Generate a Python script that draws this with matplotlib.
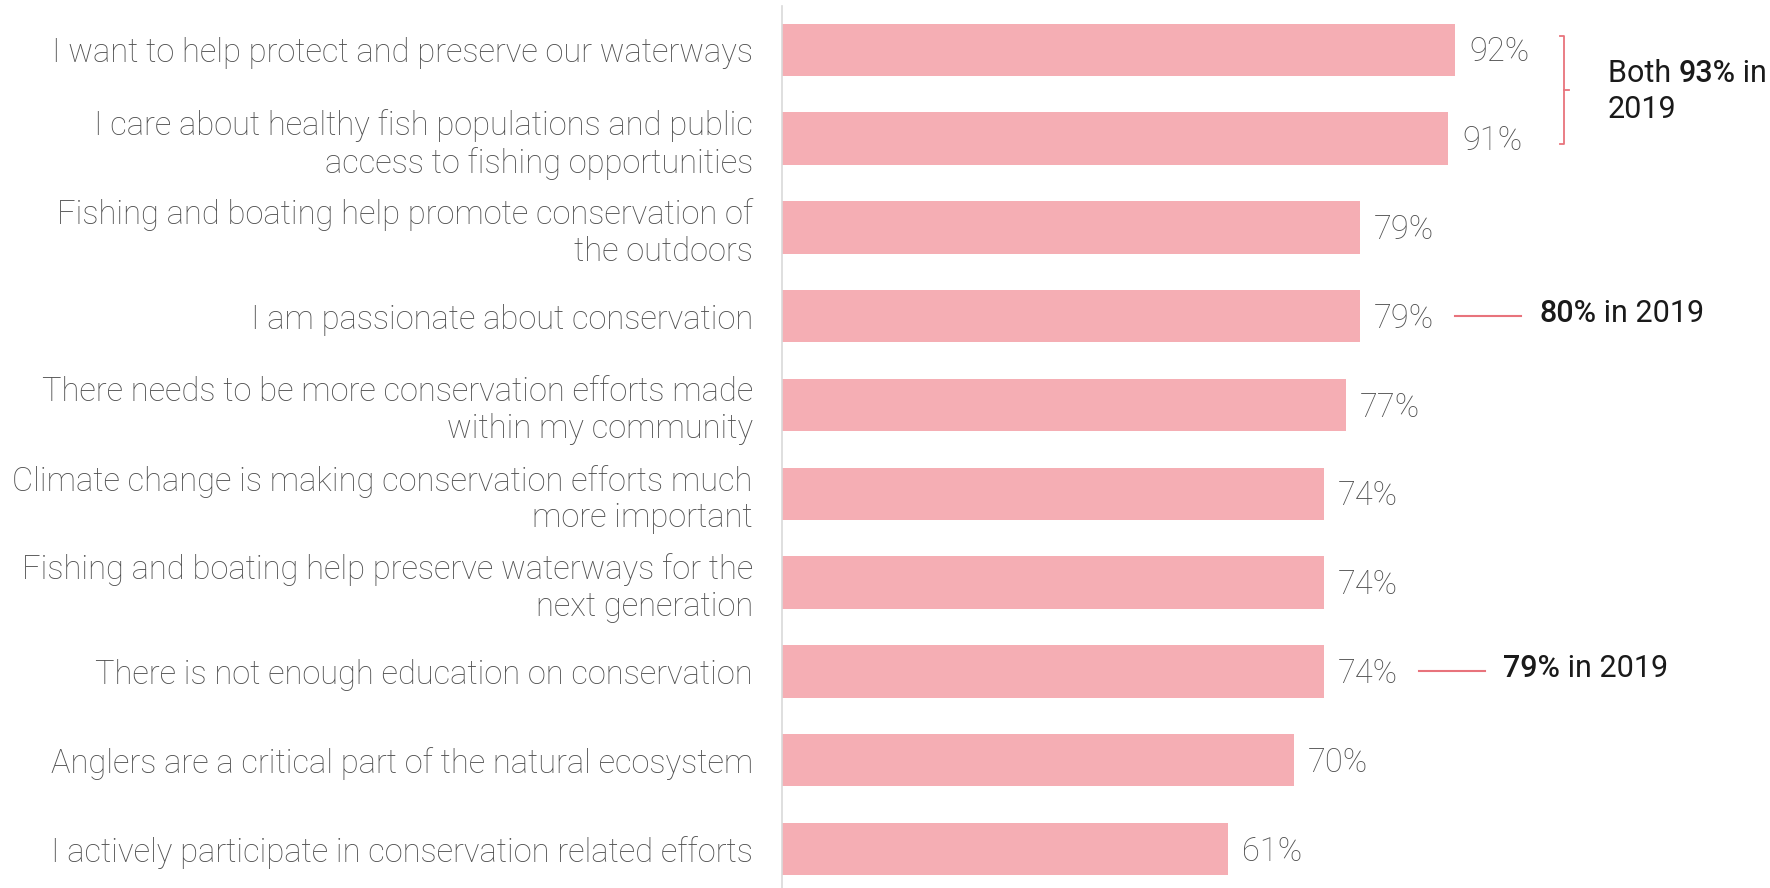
import matplotlib
matplotlib.use("Agg")
import matplotlib.pyplot as plt

categories = [
    "I want to help protect and preserve our waterways",
    "I care about healthy fish populations and public\naccess to fishing opportunities",
    "Fishing and boating help promote conservation of\nthe outdoors",
    "I am passionate about conservation",
    "There needs to be more conservation efforts made\nwithin my community",
    "Climate change is making conservation efforts much\nmore important",
    "Fishing and boating help preserve waterways for the\nnext generation",
    "There is not enough education on conservation",
    "Anglers are a critical part of the natural ecosystem",
    "I actively participate in conservation related efforts",
]
values = [92, 91, 79, 79, 77, 74, 74, 74, 70, 61]

# 2019 comparison notes: (row index, bold part, rest)
notes_2019 = [(3, "80%", " in 2019"), (7, "79%", " in 2019")]
bracket_rows = (0, 1)
bracket_bold = "93%"

BAR = "#f5aeb4"
ACCENT = "#e8737c"
GREY = "#4f4f4f"
DARK = "#1a1a1a"
FONT = "Roboto"

fig = plt.figure(figsize=(17.7, 8.88), dpi=100)
ax = fig.add_axes([0.4418, 0.0, 0.5582, 0.9932])

y = list(range(len(values)))
ax.barh(y, values, height=0.59, color=BAR)
ax.set_xlim(0, 135)
ax.set_ylim(9.44, -0.492)

ax.set_yticks(y)
ax.set_yticklabels(categories, fontsize=23.5, color=GREY, family=FONT,
                   fontweight="light", linespacing=1.18)
ax.tick_params(axis="y", length=0, pad=21)
ax.set_xticks([])
for s in ("top", "right", "bottom"):
    ax.spines[s].set_visible(False)
ax.spines["left"].set_color("#d9d9d9")
ax.spines["left"].set_linewidth(1.2)

for yi, v in zip(y, values):
    ax.text(v + 1.9, yi + 0.03, f"{v}%", va="center", ha="left", fontsize=23.5,
            color=GREY, family=FONT, fontweight="light")


def mixed(x, yy, bold, rest):
    t1 = ax.text(x, yy, bold, va="center", ha="left", fontsize=22, color=DARK,
                 family=FONT, fontweight="medium")
    ax.annotate(rest, xycoords=t1, xy=(1, 0), va="bottom", ha="left",
                fontsize=22, color=DARK, family=FONT)


# single-row notes
for row, bold, rest in notes_2019:
    x0 = values[row] + 13
    ax.plot([x0, x0 + 9], [row, row], color=ACCENT, lw=1.5)
    mixed(x0 + 11.5, row - 0.03, bold, rest)

# bracket for the top two rows
r0, r1 = bracket_rows
bx = values[r0] + 14.8
top, bot = r0 - 0.16, r1 + 0.06
ax.plot([bx - 0.55, bx, bx, bx - 0.55], [top, top, bot, bot], color=ACCENT, lw=1.3)
mid = (top + bot) / 2
ax.plot([bx, bx + 0.7], [mid, mid], color=ACCENT, lw=1.3)

t_both = ax.text(bx + 6, r0 + 0.27, "Both ", va="center", ha="left", fontsize=22,
                 color=DARK, family=FONT)
t_b = ax.annotate(bracket_bold, xycoords=t_both, xy=(1, 0), va="bottom", ha="left",
                  fontsize=22, color=DARK, family=FONT, fontweight="medium")
ax.annotate(" in", xycoords=t_b, xy=(1, 0), va="bottom", ha="left",
            fontsize=22, color=DARK, family=FONT)
ax.text(bx + 6, r0 + 0.67, "2019", va="center", ha="left", fontsize=22,
        color=DARK, family=FONT)

fig.savefig("out.png", dpi=100)
